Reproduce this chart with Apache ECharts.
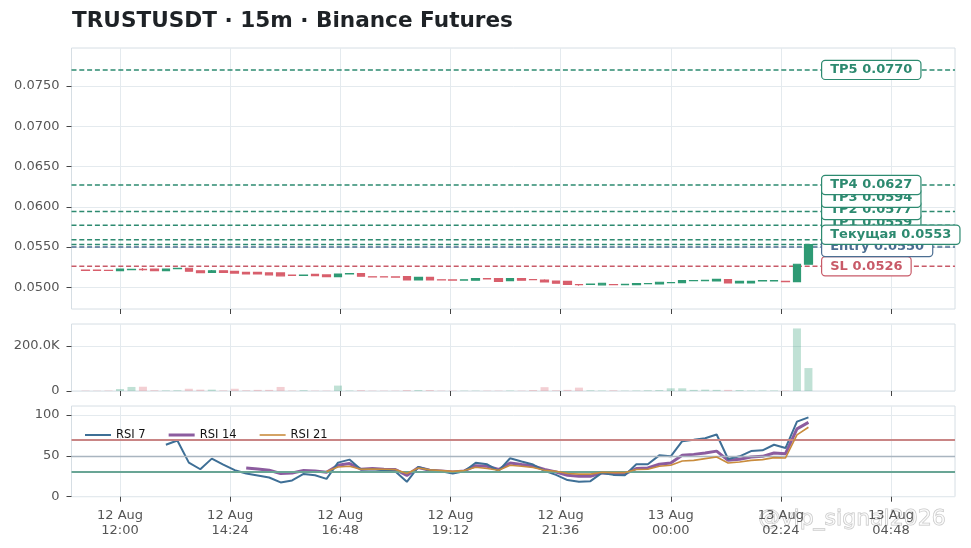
<!DOCTYPE html>
<html>
<head>
<meta charset="utf-8">
<script src="https://cdn.jsdelivr.net/npm/echarts@6/dist/echarts.min.js"></script>
<style>
html,body{margin:0;padding:0;background:#fff;}
#c{width:971px;height:548px;}
</style>
</head>
<body>
<div id="c"></div>
<script>
// ---- data ----
const TITLE = 'TRUSTUSDT · 15m · Binance Futures';
const START_MIN = 675;   // 12 Aug 11:15, minutes from 12 Aug 00:00
const STEP_MIN = 15;

const opens = [0.05212,0.05212,0.05211,0.05206,0.05218,0.05222,0.05226,0.05206,0.05232,0.05236,
  0.05204,0.05184,0.05204,0.05198,0.05186,0.05186,0.05178,0.05178,0.05150,0.05147,
  0.05160,0.05153,0.05133,0.05167,0.05170,0.05130,0.05130,0.05128,0.05132,0.05091,
  0.05124,0.05092,0.05091,0.05089,0.05087,0.05108,0.05107,0.05082,0.05107,0.05096,
  0.05090,0.05078,0.05074,0.05034,0.05035,0.05030,0.05034,0.05032,0.05033,0.05044,
  0.05041,0.05056,0.05058,0.05081,0.05082,0.05078,0.05095,0.05053,0.05053,0.05080,
  0.05080,0.05074,0.05070,0.05286];
const closes = [0.05210,0.05210,0.05210,0.05226,0.05222,0.05220,0.05206,0.05226,0.05236,0.05199,
  0.05182,0.05204,0.05184,0.05176,0.05166,0.05166,0.05154,0.05142,0.05148,0.05150,
  0.05145,0.05133,0.05165,0.05170,0.05137,0.05128,0.05128,0.05126,0.05091,0.05124,
  0.05091,0.05090,0.05089,0.05092,0.05107,0.05105,0.05074,0.05107,0.05087,0.05094,
  0.05066,0.05050,0.05035,0.05032,0.05038,0.05050,0.05032,0.05035,0.05045,0.05047,
  0.05062,0.05059,0.05082,0.05084,0.05085,0.05099,0.05053,0.05074,0.05074,0.05083,
  0.05083,0.05070,0.05286,0.05530];
const lows = [0.05208,0.05208,0.05208,0.05204,0.05210,0.05204,0.05204,0.05204,0.05230,0.05197,
  0.05180,0.05182,0.05182,0.05174,0.05164,0.05164,0.05152,0.05140,0.05146,0.05145,
  0.05143,0.05131,0.05131,0.05165,0.05135,0.05126,0.05126,0.05124,0.05089,0.05089,
  0.05089,0.05088,0.05087,0.05087,0.05085,0.05103,0.05072,0.05080,0.05085,0.05092,
  0.05062,0.05048,0.05033,0.05020,0.05033,0.05028,0.05030,0.05030,0.05031,0.05042,
  0.05039,0.05050,0.05056,0.05079,0.05080,0.05076,0.05051,0.05051,0.05051,0.05078,
  0.05078,0.05066,0.05068,0.05284];
const highs = [0.05214,0.05214,0.05213,0.05228,0.05228,0.05240,0.05228,0.05228,0.05238,0.05238,
  0.05206,0.05214,0.05206,0.05200,0.05188,0.05188,0.05180,0.05180,0.05152,0.05152,
  0.05162,0.05155,0.05167,0.05172,0.05172,0.05132,0.05132,0.05130,0.05134,0.05126,
  0.05126,0.05094,0.05093,0.05094,0.05109,0.05110,0.05109,0.05109,0.05109,0.05098,
  0.05099,0.05080,0.05076,0.05036,0.05040,0.05052,0.05036,0.05037,0.05047,0.05049,
  0.05064,0.05066,0.05084,0.05086,0.05087,0.05101,0.05097,0.05076,0.05076,0.05085,
  0.05085,0.05076,0.05288,0.05532];
const volumes = [1500,1200,1800,9000,18000,19000,3000,2500,3000,10000,
  6000,6000,2500,10000,3000,5000,5000,18000,2000,3500,
  1500,1500,24000,2000,3500,1500,1500,1500,4000,4000,
  4000,1500,1500,1500,1500,1500,1500,2000,1500,4000,
  17000,3000,5000,15000,3000,2000,3000,1500,2000,3000,
  4000,12000,12000,5000,6000,5000,5000,4000,2000,2000,
  2000,2000,278000,102000];
const rsi7 = [null,null,null,null,null,null,null,63.6,68.8,41.7,
  33.6,46.6,39.3,32.4,28.4,26.0,23.5,17.5,19.9,27.9,
  26.3,21.8,41.7,45.4,33.3,33.6,32.4,30.8,18.2,36.4,
  32.4,31.2,28.4,31.2,41.5,39.7,31.6,47.0,43.0,39.3,
  31.6,26.7,20.3,18.2,19.0,29.1,26.7,26.3,39.7,39.7,
  50.6,49.4,68.0,69.7,71.6,76.1,46.1,49.4,55.8,56.7,
  63.6,59.5,91.9,97.1];
const rsi14 = [null,null,null,null,null,null,null,null,null,null,
  null,null,null,null,35.2,34.0,32.4,28.4,29.1,32.0,
  31.6,30.0,38.5,40.5,33.6,34.5,33.6,33.3,26.0,35.7,
  32.4,31.6,30.3,31.6,38.0,37.3,33.3,41.3,39.3,37.6,
  33.3,30.3,26.3,25.1,25.1,29.1,28.4,28.0,34.5,35.2,
  39.7,41.3,50.6,51.8,53.4,55.8,44.5,45.8,48.5,49.4,
  53.4,52.7,83.0,91.0];
const rsi21 = [null,null,null,null,null,null,null,null,null,null,
  null,null,null,null,null,null,null,null,null,null,
  null,30.8,36.4,37.3,33.6,33.9,33.6,33.3,28.4,35.2,
  32.8,32.0,31.0,32.0,36.0,34.5,32.4,38.5,37.3,35.7,
  32.4,31.2,28.4,27.6,27.6,30.0,29.5,29.5,33.3,33.6,
  37.3,38.5,43.7,44.5,46.6,48.5,41.3,42.5,44.5,45.4,
  47.8,47.4,75.7,85.0];

const levelNames  = ['SL', 'Entry', 'TP1', 'TP2', 'TP3', 'TP4', 'TP5', 'Текущая'];
const levelPrices = [0.0526, 0.0550, 0.0559, 0.0577, 0.0594, 0.0627, 0.0770, 0.0553];
const levelKinds  = ['sl', 'entry', 'tp', 'tp', 'tp', 'tp', 'tp', 'cur'];

const xTicks = [720, 864, 1008, 1152, 1296, 1440, 1584, 1728];
const priceTicks = [0.0500, 0.0550, 0.0600, 0.0650, 0.0700, 0.0750];
const volTicks = [0, 200000];
const rsiTicks = [0, 50, 100];
const rsiLevels = [70, 50, 30];

// ---- styling ----
const FONT = 'DejaVu Sans';
const UP = '#2e9a74', DOWN = '#d85f6c';
const UP_V = 'rgba(46,154,116,0.30)', DOWN_V = 'rgba(216,95,108,0.30)';
const KIND_COLOR = { sl: '#c85a68', entry: '#4b6e92', tp: '#2d8a70', cur: '#2d8a70' };
const GRID_LINE = '#e4eaee';
const BORDER = '#d6dee4';
const LABEL_C = '#555';
const XMIN = 656.6, XMAX = 1811.6;
const LABEL_GAP = 12.3;
const RSI_STYLE = [
  { name: 'RSI 7',  color: '#3e6f96', width: 2,   z: 4 },
  { name: 'RSI 14', color: '#8c5c9f', width: 3,   z: 3 },
  { name: 'RSI 21', color: '#c98c3d', width: 1.6, z: 5 }
];

const times = opens.map((_, i) => START_MIN + i * STEP_MIN);
const lastT = times[times.length - 1];
const labelX = lastT + 18;

function fmtTime(m) {
  const day = 12 + Math.floor(m / 1440);
  const r = ((m % 1440) + 1440) % 1440;
  const hh = String(Math.floor(r / 60)).padStart(2, '0');
  const mm = String(Math.round(r % 60)).padStart(2, '0');
  return day + ' Aug\n' + hh + ':' + mm;
}

const candleData = times.map((t, i) => [t, opens[i], closes[i], lows[i], highs[i]]);
const volData = times.map((t, i) => ({
  value: [t, volumes[i]],
  itemStyle: { color: closes[i] >= opens[i] ? UP_V : DOWN_V }
}));
const pairs = arr => times.map((t, i) => [t, arr[i]]).filter(p => p[1] != null);

function xAxis(gi, showLabel) {
  return {
    type: 'value', gridIndex: gi, min: XMIN, max: XMAX,
    axisLine: { show: false },
    axisTick: { show: true, customValues: xTicks, length: 5, lineStyle: { color: '#444', width: 1 } },
    axisLabel: {
      show: showLabel, customValues: xTicks, formatter: fmtTime,
      color: LABEL_C, fontFamily: FONT, fontSize: 13, lineHeight: 15, margin: 11
    },
    splitLine: { show: true, lineStyle: { color: GRID_LINE, width: 1 } }
  };
}
function yAxis(gi, min, max, ticks, fmt) {
  return {
    type: 'value', gridIndex: gi, min: min, max: max,
    axisLine: { show: false },
    axisTick: { show: true, customValues: ticks, length: 5, lineStyle: { color: '#444', width: 1 } },
    axisLabel: { customValues: ticks, formatter: fmt, color: LABEL_C, fontFamily: FONT, fontSize: 13, margin: 12 },
    splitLine: { show: true, lineStyle: { color: GRID_LINE, width: 1 } }
  };
}

const gridBase = { left: 71.5, right: 16, show: true, borderColor: BORDER, borderWidth: 1, backgroundColor: '#fff' };

const levelLabel = i => ({
  show: true, position: 'right', distance: 0, opacity: 1,
  formatter: levelNames[i] + ' ' + levelPrices[i].toFixed(4),
  fontFamily: FONT, fontSize: 13, fontWeight: 'bold',
  color: KIND_COLOR[levelKinds[i]],
  backgroundColor: '#fff', borderColor: KIND_COLOR[levelKinds[i]], borderWidth: 1.2,
  borderRadius: 3, padding: [3, 8, 2, 8]
});

const levelLineSeries = levelPrices.map((p, i) => ({
  type: 'line', name: 'lvl_' + levelNames[i], xAxisIndex: 0, yAxisIndex: 0,
  data: [[XMIN, p], [XMAX, p]], symbol: 'none', silent: true, z: 2,
  lineStyle: { color: KIND_COLOR[levelKinds[i]], type: [5, 2.8], width: 1.5 }
}));

const rsiSeries = [rsi7, rsi14, rsi21].map((arr, k) => ({
  type: 'line', name: RSI_STYLE[k].name, xAxisIndex: 2, yAxisIndex: 2,
  data: pairs(arr), symbol: 'none', color: RSI_STYLE[k].color,
  lineStyle: { width: RSI_STYLE[k].width, color: RSI_STYLE[k].color }, z: RSI_STYLE[k].z
}));
rsiSeries[0].markLine = {
  silent: true, symbol: 'none', label: { show: false },
  data: [
    { yAxis: rsiLevels[0], lineStyle: { color: '#c98585', type: 'solid', width: 2 } },
    { yAxis: rsiLevels[1], lineStyle: { color: '#a9b5c0', type: 'solid', width: 1.3 } },
    { yAxis: rsiLevels[2], lineStyle: { color: '#69a595', type: 'solid', width: 2 } }
  ]
};

const option = {
  animation: false,
  backgroundColor: '#fff',
  title: {
    text: TITLE, left: 67, top: 5,
    textStyle: { fontFamily: FONT, fontSize: 21.6, fontWeight: 'bold', color: '#1e2226' }
  },
  legend: {
    data: RSI_STYLE.map(s => ({
      name: s.name,
      icon: 'path://M0,0 L26,0 L26,' + s.width + ' L0,' + s.width + ' Z'
    })),
    left: 80, top: 424, itemWidth: 26, itemHeight: 14, itemGap: 23,
    textStyle: { fontFamily: FONT, fontSize: 11.5, color: '#111' }
  },
  grid: [
    Object.assign({ top: 48, height: 261 }, gridBase),
    Object.assign({ top: 324, height: 67 }, gridBase),
    Object.assign({ top: 406, height: 90.7 }, gridBase)
  ],
  xAxis: [xAxis(0, false), xAxis(1, false), xAxis(2, true)],
  yAxis: [
    yAxis(0, 0.04730, 0.07972, priceTicks, v => v.toFixed(4)),
    yAxis(1, 0, 297800, volTicks, v => v === 0 ? '0' : (v / 1000).toFixed(1) + 'K'),
    yAxis(2, 0, 111, rsiTicks, v => String(v))
  ],
  series: [
    {
      type: 'candlestick', name: 'price', xAxisIndex: 0, yAxisIndex: 0,
      data: candleData, encode: { x: 0, y: [1, 2, 3, 4] },
      barWidth: 8,
      itemStyle: { color: UP, color0: DOWN, borderColor: UP, borderColor0: DOWN, borderWidth: 1.2 },
      z: 3
    },
    {
      type: 'scatter', name: 'levels', xAxisIndex: 0, yAxisIndex: 0,
      symbolSize: 0, silent: true, z: 10, itemStyle: { opacity: 1 },
      data: levelPrices.map((p, i) => ({ value: [labelX, p], label: levelLabel(i) }))
    },
    {
      type: 'bar', name: 'volume', xAxisIndex: 1, yAxisIndex: 1,
      data: volData, barWidth: 8
    }
  ].concat(rsiSeries, levelLineSeries),
  graphic: [{
    type: 'text', left: 758, top: 508, silent: true,
    style: { text: '@vip_signal2026', font: '22px ' + FONT, fill: 'rgba(255,255,255,0.55)', stroke: 'rgba(120,120,120,0.45)', lineWidth: 1 }
  }]
};

const chart = echarts.init(document.getElementById('c'), null, { renderer: 'canvas' });
chart.setOption(option);

// de-overlap the level labels (pushed upward, like the reference)
const ys = levelPrices.map(p => chart.convertToPixel({ gridIndex: 0 }, [labelX, p])[1]);
const order = levelPrices.map((p, i) => i).sort((a, b) => levelPrices[a] - levelPrices[b]);
const adj = ys.slice();
let prev = Infinity;
order.forEach(i => {
  const y = Math.min(ys[i], prev - LABEL_GAP);
  adj[i] = y; prev = y;
});
chart.setOption({
  series: [{}, {
    data: levelPrices.map((p, i) => ({
      value: [labelX, p],
      label: Object.assign(levelLabel(i), { offset: [0, adj[i] - ys[i]] })
    }))
  }]
});
</script>
</body>
</html>
